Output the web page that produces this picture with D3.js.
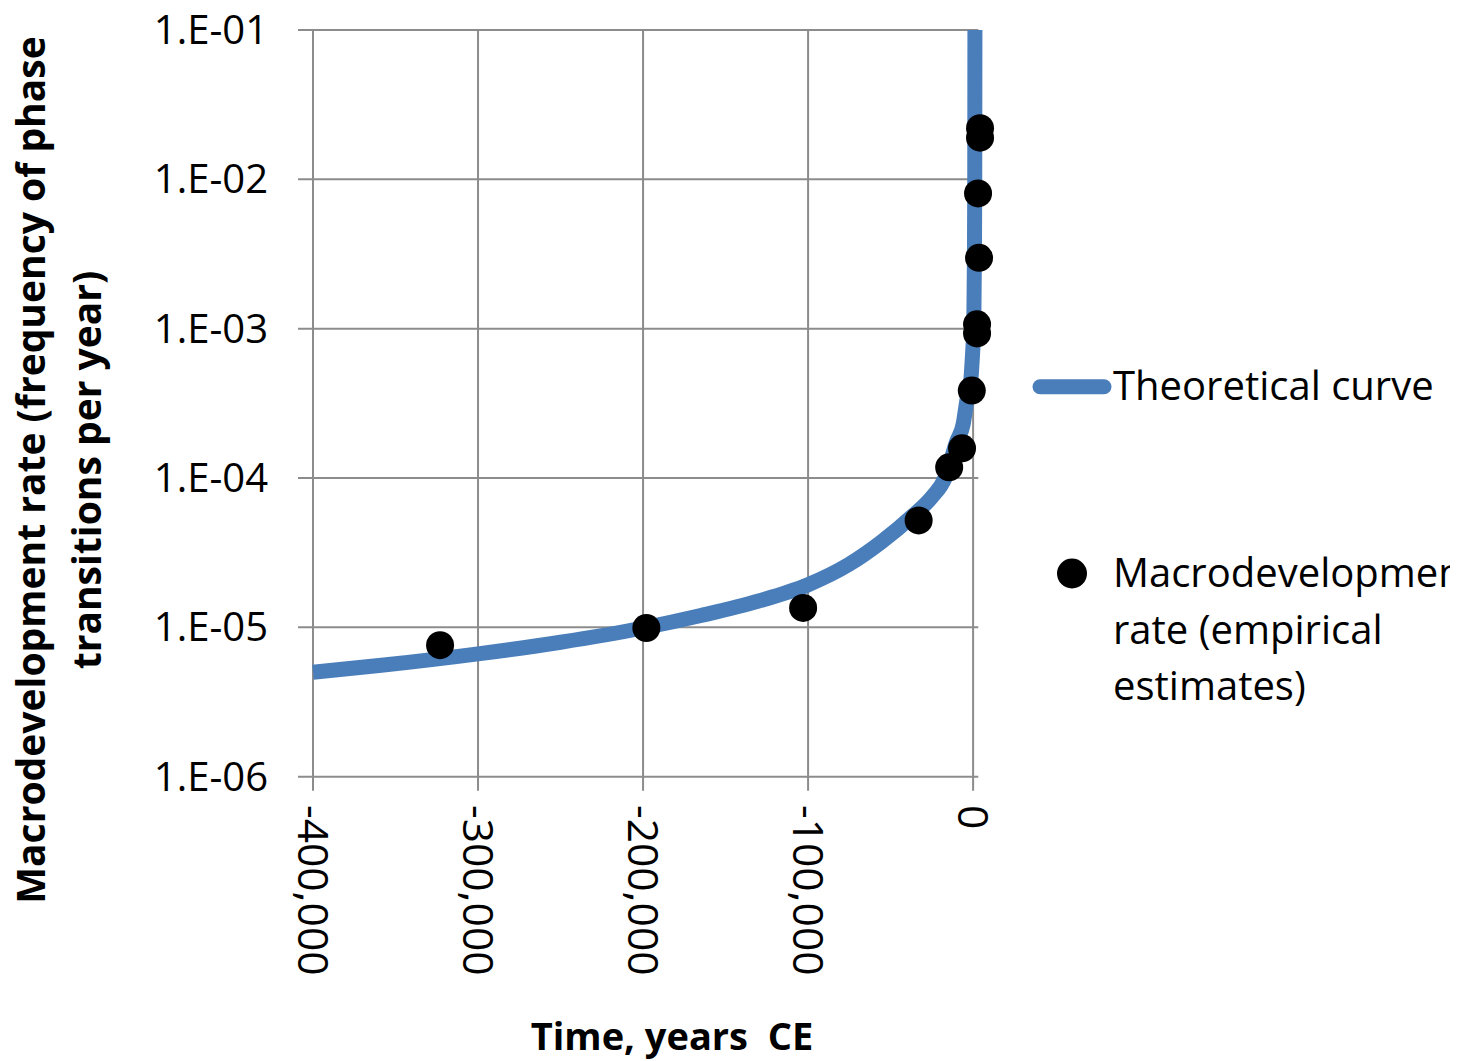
<!DOCTYPE html>
<html><head><meta charset="utf-8">
<script src="https://cdn.jsdelivr.net/npm/d3@7"></script>
<style>
body{margin:0;background:#fff}
text{font-family:'Open Sans',sans-serif;fill:#000}
</style>
</head><body>
<svg id="c" width="1466" height="1061"></svg>
<script>
// ---- data ----
const xTicks = [-400000, -300000, -200000, -100000, 0];
const xTickLabels = ["-400,000", "-300,000", "-200,000", "-100,000", "0"];
const yTicks = [1e-1, 1e-2, 1e-3, 1e-4, 1e-5, 1e-6];
const yTickLabels = ["1.E-01", "1.E-02", "1.E-03", "1.E-04", "1.E-05", "1.E-06"];

const curveYears = [-400000, -360000, -300000, -250000, -200000, -165000, -130000, -100000, -75000, -56000, -36500, -25000, -17000, -10000, -6000, -3800, -1400, -200, 400, 800, 1000, 1100];
const curveRates = [5.0e-6, 5.55e-6, 6.65e-6, 7.95e-6, 9.9e-6, 1.2e-5, 1.5e-5, 1.93e-5, 2.65e-5, 3.7e-5, 5.6e-5, 7.45e-5, 1.0e-4, 1.75e-4, 2.3e-4, 3.3e-4, 4.5e-4, 7.2e-4, 9.8e-4, 3.0e-3, 1.0e-2, 1.0e-1];

const dotYears = [-323000, -198000, -103000, -33000, -14500, -6700, -800, 2400, 2400, 3600, 3000, 4200, 4200];
const dotRates = [7.6e-6, 9.9e-6, 1.35e-5, 5.2e-5, 1.18e-4, 1.58e-4, 3.85e-4, 9.3e-4, 1.07e-3, 2.98e-3, 8.05e-3, 1.9e-2, 2.2e-2];

const seriesNames = ["Theoretical curve", "Macrodevelopment rate (empirical estimates)"];
const legendLines2 = ["Macrodevelopment", "rate (empirical", "estimates)"];
const xTitle = "Time, years  CE";
const yTitleLines = ["Macrodevelopment rate (frequency of phase", "transitions per year)"];

// ---- layout ----
const svg = d3.select("#c");
const X0 = 313, X1 = 978.3, Y0 = 776.7, Y1 = 30;
const x = d3.scaleLinear().domain([-400000, 3150]).range([X0, X1]);
const y = d3.scaleLog().domain([1e-6, 1e-1]).range([Y0, Y1]);
const grid = "#8c8c8c", blue = "#4a7ebb";

svg.append("rect").attr("width", 1466).attr("height", 1061).attr("fill", "#fff");

// horizontal gridlines + y ticks
svg.append("g").selectAll("line").data(yTicks).join("line")
  .attr("x1", X0 - 15).attr("x2", X1)
  .attr("y1", d => y(d)).attr("y2", d => y(d))
  .attr("stroke", grid).attr("stroke-width", 2);
// vertical gridlines + x ticks
svg.append("g").selectAll("line").data(xTicks).join("line")
  .attr("x1", d => x(d)).attr("x2", d => x(d))
  .attr("y1", Y1).attr("y2", Y0 + 14)
  .attr("stroke", grid).attr("stroke-width", 2);

// y tick labels
svg.append("g").selectAll("text").data(yTicks).join("text")
  .attr("x", 268).attr("y", d => y(d)).attr("dy", "0.35em")
  .attr("text-anchor", "end").attr("font-size", 40)
  .text((d, i) => yTickLabels[i]);

// x tick labels (rotated)
svg.append("g").selectAll("text").data(xTicks).join("text")
  .attr("transform", d => `translate(${x(d)},805) rotate(90)`)
  .attr("dy", "0.35em").attr("font-size", 42.5)
  .text((d, i) => xTickLabels[i]);

// curve
const line = d3.line().x(d => x(d[0])).y(d => y(d[1])).curve(d3.curveMonotoneX);
svg.append("path").datum(curveYears.map((t, i) => [t, curveRates[i]]))
  .attr("d", line).attr("fill", "none").attr("stroke", blue).attr("stroke-width", 15);

// dots
svg.append("g").selectAll("circle").data(dotYears.map((t, i) => [t, dotRates[i]])).join("circle")
  .attr("cx", d => x(d[0])).attr("cy", d => y(d[1])).attr("r", 14).attr("fill", "#000");

// axis titles
svg.append("text").attr("x", 672).attr("y", 1050).attr("text-anchor", "middle")
  .attr("font-size", 38).attr("font-weight", "bold").style("white-space", "pre")
  .text(xTitle);
const yt = svg.append("g").attr("transform", "translate(0,470) rotate(-90)");
yt.selectAll("text").data(yTitleLines).join("text")
  .attr("x", 0).attr("y", (d, i) => 45 + i * 56)
  .attr("text-anchor", "middle").attr("font-size", 39).attr("font-weight", "bold")
  .text(d => d);

// legend
svg.append("defs").append("clipPath").attr("id", "lg")
  .append("rect").attr("x", 1000).attr("y", 300).attr("width", 450).attr("height", 450);
const lg = svg.append("g").attr("clip-path", "url(#lg)");
lg.append("line").attr("x1", 1040).attr("x2", 1104).attr("y1", 386.7).attr("y2", 386.7)
  .attr("stroke", blue).attr("stroke-width", 15).attr("stroke-linecap", "round");
lg.append("text").attr("x", 1113).attr("y", 400).attr("font-size", 40).text(seriesNames[0]);
lg.append("circle").attr("cx", 1072).attr("cy", 573.5).attr("r", 15).attr("fill", "#000");
lg.selectAll("text.l2").data(legendLines2).join("text").attr("class", "l2")
  .attr("x", 1113).attr("y", (d, i) => 587 + i * 56.7).attr("font-size", 40).text(d => d);
</script>
</body></html>
